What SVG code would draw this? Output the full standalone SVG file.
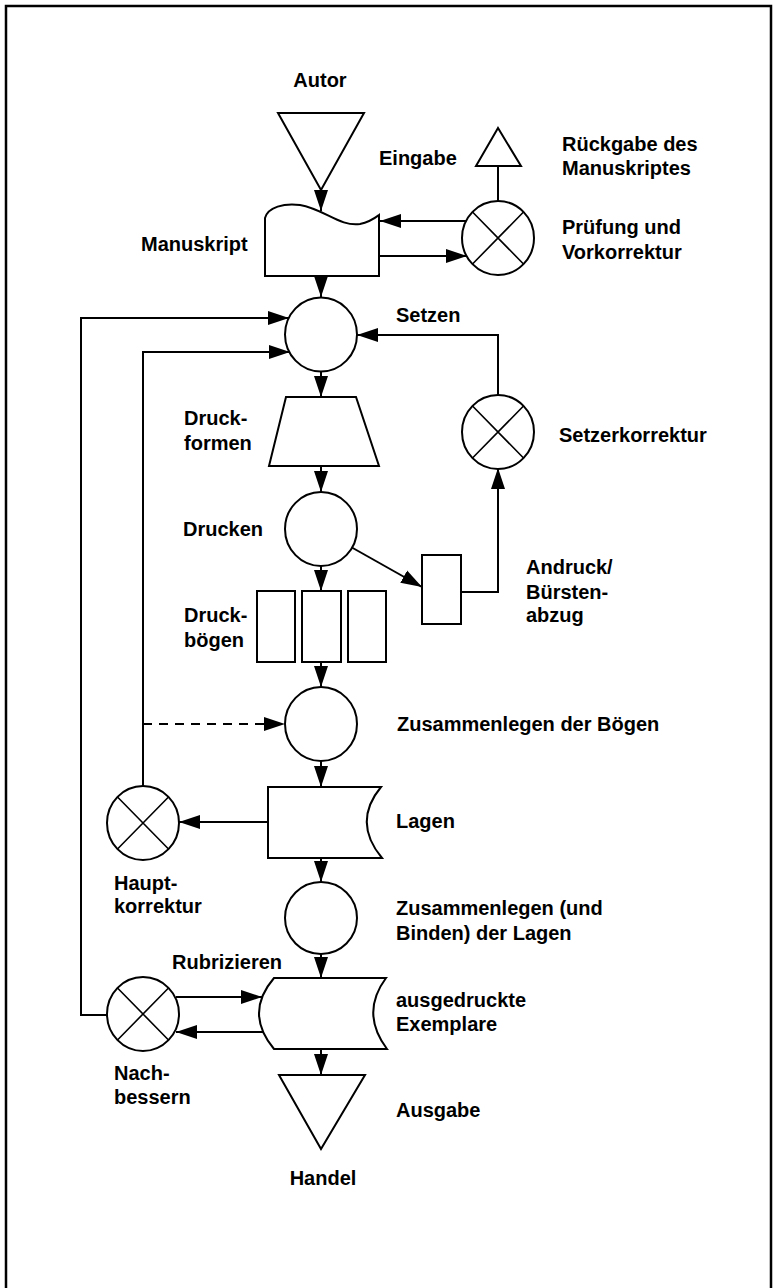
<svg xmlns="http://www.w3.org/2000/svg" width="774" height="1288" viewBox="0 0 774 1288">
<defs>
<marker id="ah" markerUnits="userSpaceOnUse" markerWidth="22" markerHeight="15" refX="21" refY="7.5" orient="auto">
<path d="M0,0.5 L21,7.5 L0,14.5 Z" fill="#000"/>
</marker>
<style>
.s{fill:#fff;stroke:#000;stroke-width:2}
.x{stroke:#000;stroke-width:1.6;fill:none}
.c{stroke:#000;stroke-width:2;fill:none}
.a{marker-end:url(#ah)}
.d{stroke-dasharray:9,7}
text{font-family:"Liberation Sans",Arial,sans-serif;font-weight:bold;font-size:20px;fill:#000}
.m{text-anchor:middle}
</style>
</defs>
<rect width="774" height="1288" fill="#fff"/>
<path d="M6,1290 V6 H771 V1290" fill="none" stroke="#000" stroke-width="2.5"/>

<g id="connectors">
<line class="c a" x1="321" y1="190" x2="321" y2="211"/>
<line class="c a" x1="321" y1="276" x2="321" y2="297"/>
<line class="c a" x1="466" y1="221" x2="380" y2="221"/>
<line class="c a" x1="379" y1="256" x2="467" y2="256"/>
<line class="c" x1="498" y1="202" x2="498" y2="166"/>
<polyline class="c a" points="498,396 498,335 357,335"/>
<polyline class="c a" points="107,1015 81,1015 81,318 289,318"/>
<polyline class="c a" points="143,787 143,352 290,352"/>
<line class="c a" x1="321" y1="371" x2="321" y2="397"/>
<line class="c a" x1="321" y1="466" x2="321" y2="492"/>
<line class="c a" x1="321" y1="566" x2="321" y2="591"/>
<line class="c a" x1="351" y1="547" x2="422" y2="587"/>
<polyline class="c a" points="461,592 498,592 498,468"/>
<line class="c a" x1="321" y1="662" x2="321" y2="687"/>
<line class="c a d" x1="143" y1="724" x2="285" y2="724"/>
<line class="c a" x1="321" y1="761" x2="321" y2="787"/>
<line class="c a" x1="268" y1="822" x2="179" y2="822"/>
<line class="c a" x1="321" y1="858" x2="321" y2="882"/>
<line class="c a" x1="321" y1="954" x2="321" y2="978"/>
<line class="c a" x1="176" y1="997" x2="262" y2="997"/>
<line class="c a" x1="263" y1="1032" x2="176" y2="1032"/>
<line class="c a" x1="321" y1="1049" x2="321" y2="1075"/>
</g>

<g id="autor">
<polygon class="s" points="278,113 364,113 321,190"/>
<text class="m" x="320" y="87">Autor</text>
<text x="379" y="165">Eingabe</text>
</g>

<g id="rueckgabe">
<polygon class="s" points="498,128 476,166 521,166"/>
<text x="562" y="151">Rückgabe des</text>
<text x="562" y="175">Manuskriptes</text>
</g>

<g id="manuskript">
<path class="s" d="M265,276 V218 C268,207 284,203 300,205 C324,209 340,227 360,224 C370,222 375,218 379,215 V276 Z"/>
<text x="141" y="251">Manuskript</text>
</g>

<g id="pruefung">
<ellipse class="s" cx="498" cy="238" rx="36" ry="37"/>
<path class="x" d="M472.5,212 L523.5,264 M523.5,212 L472.5,264"/>
<text x="562" y="234">Prüfung und</text>
<text x="562" y="259">Vorkorrektur</text>
</g>

<g id="setzen">
<ellipse class="s" cx="321" cy="334.5" rx="36" ry="37"/>
<text x="396" y="322">Setzen</text>
</g>

<g id="setzerkorrektur">
<ellipse class="s" cx="498" cy="432" rx="36" ry="37"/>
<path class="x" d="M472.5,406 L523.5,458 M523.5,406 L472.5,458"/>
<text x="559" y="442">Setzerkorrektur</text>
</g>

<g id="druckformen">
<polygon class="s" points="286,397 356,397 379,466 269,466"/>
<text x="184" y="425">Druck-</text>
<text x="184" y="450">formen</text>
</g>

<g id="drucken">
<ellipse class="s" cx="321" cy="529" rx="36" ry="37"/>
<text x="183" y="536">Drucken</text>
</g>

<g id="andruck">
<rect class="s" x="422" y="555" width="39" height="69"/>
<text x="526" y="574">Andruck/</text>
<text x="526" y="599">Bürsten-</text>
<text x="526" y="622">abzug</text>
</g>

<g id="druckboegen">
<rect class="s" x="257" y="591" width="38" height="71"/>
<rect class="s" x="302" y="591" width="39" height="71"/>
<rect class="s" x="348" y="591" width="38" height="71"/>
<text x="184" y="622">Druck-</text>
<text x="184" y="647">bögen</text>
</g>

<g id="zusammenlegen-boegen">
<ellipse class="s" cx="321" cy="724" rx="36" ry="37"/>
<text x="397" y="731">Zusammenlegen der Bögen</text>
</g>

<g id="lagen">
<path class="s" d="M268,787 H381 Q352,822 382,858 H268 Z"/>
<text x="396" y="828">Lagen</text>
</g>

<g id="hauptkorrektur">
<ellipse class="s" cx="143" cy="823" rx="36" ry="37"/>
<path class="x" d="M117.5,797 L168.5,849 M168.5,797 L117.5,849"/>
<text x="114" y="890">Haupt-</text>
<text x="114" y="913">korrektur</text>
</g>

<g id="zusammenlegen-lagen">
<ellipse class="s" cx="321" cy="918" rx="36" ry="36"/>
<text x="396" y="915">Zusammenlegen (und</text>
<text x="396" y="940">Binden) der Lagen</text>
</g>

<g id="exemplare">
<path class="s" d="M274,978 H386 Q360,1013 387,1049 H274 Q244,1013 274,978 Z"/>
<text x="396" y="1007">ausgedruckte</text>
<text x="396" y="1031">Exemplare</text>
</g>

<g id="nachbessern">
<ellipse class="s" cx="143" cy="1014" rx="36" ry="37"/>
<path class="x" d="M117.5,988 L168.5,1040 M168.5,988 L117.5,1040"/>
<text x="172" y="969">Rubrizieren</text>
<text x="114" y="1080">Nach-</text>
<text x="114" y="1104">bessern</text>
</g>

<g id="ausgabe">
<polygon class="s" points="279,1075 365,1075 321,1149"/>
<text x="396" y="1117">Ausgabe</text>
<text class="m" x="323" y="1185">Handel</text>
</g>
</svg>
